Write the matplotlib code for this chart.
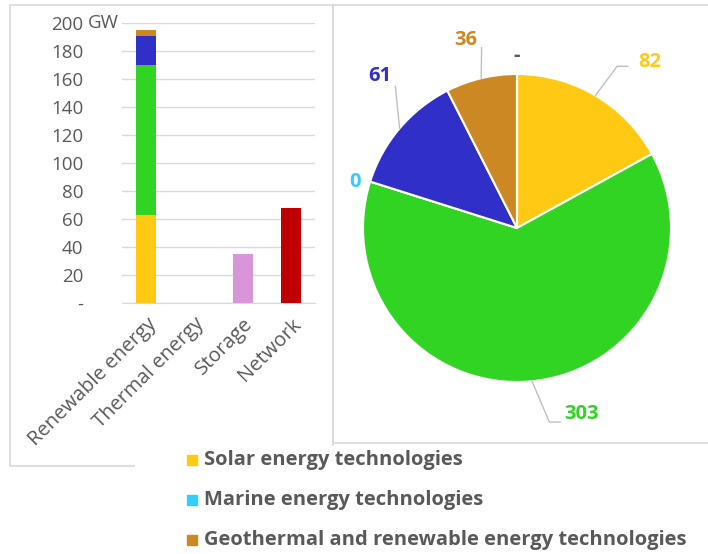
import matplotlib
matplotlib.use('Agg')
import matplotlib.pyplot as plt
import numpy as np
from matplotlib.patches import Rectangle

plt.rcParams['font.family'] = ['Open Sans', 'DejaVu Sans']

# bar chart data (GW)
categories = ['Renewable energy', 'Thermal energy', 'Storage', 'Network']
solar_bar = [63, 0, 0, 0]
wind_bar = [107, 0, 0, 0]
hydro_bar = [21, 0, 0, 0]
geo_bar = [4, 0, 0, 0]
storage_bar = [0, 0, 35, 0]
network_bar = [0, 0, 0, 68]
yticks = [0, 20, 40, 60, 80, 100, 120, 140, 160, 180, 200]
ytick_labels = ['-', '20', '40', '60', '80', '100', '120', '140', '160', '180', '200']

# pie data
pie_names = ['Solar energy technologies', 'Wind energy technologies',
             'Marine energy technologies', 'Hydro energy technologies',
             'Geothermal and renewable energy technologies', 'Other']
pie_values = [82, 303, 0, 61, 36, 0]
pie_labels = ['82', '303', '0', '61', '36', '-']

c_solar = '#FFC914'
c_wind = '#32D424'
c_marine = '#33CCFF'
c_hydro = '#3030C8'
c_geo = '#CC8822'
c_storage = '#D896D8'
c_network = '#C00000'
grey = '#595959'
line_grey = '#D9D9D9'

fig = plt.figure(figsize=(7.08, 5.54), dpi=100)

# panel frames
fig.add_artist(Rectangle((10/708, 1-466/554), 323/708, 461/554, transform=fig.transFigure,
                         fill=False, ec=line_grey, lw=1.2, zorder=0))
fig.add_artist(Rectangle((333/708, 1-443/554), 400/708, 438/554, transform=fig.transFigure,
                         fill=False, ec=line_grey, lw=1.2, zorder=0))
fig.add_artist(Rectangle((135/708, -0.01), 1, 1-443/554 + 0.005, transform=fig.transFigure,
                         fc='white', ec='none', zorder=1))

# ---- bar chart
ax = fig.add_axes([122/708, 1-303/554, 193/708, 280/554])
x = np.arange(len(categories))
w = 0.41
bottom = np.zeros(len(categories))
for vals, col in [(solar_bar, c_solar), (wind_bar, c_wind), (hydro_bar, c_hydro),
                  (geo_bar, c_geo), (storage_bar, c_storage), (network_bar, c_network)]:
    ax.bar(x, vals, w, bottom=bottom, color=col, zorder=3)
    bottom += np.array(vals)
ax.set_xlim(-0.5, len(categories) - 0.5)
ax.set_ylim(0, 200)
ax.set_yticks(yticks)
ax.set_yticklabels(ytick_labels)
ax.yaxis.grid(True, color=line_grey, lw=1)
ax.set_axisbelow(True)
for s in ['top', 'right', 'left']:
    ax.spines[s].set_visible(False)
ax.spines['bottom'].set_color(line_grey)
ax.tick_params(axis='y', length=0, pad=28, labelsize=13.5, labelcolor=grey)
ax.tick_params(axis='x', length=0, pad=8)
ax.set_xticks(x)
ax.set_xticklabels(categories, rotation=45, ha='right', rotation_mode='anchor',
                   fontsize=14.5, color=grey)
ax.annotate('GW', xy=(0, 200), xycoords=('axes fraction', 'data'), xytext=(-34, 0),
            textcoords='offset pixels', ha='left', va='center', fontsize=13.5, color=grey)

# ---- pie chart
r = 154
pax = fig.add_axes([(517-r)/708, 1-(228+r)/554, 2*r/708, 2*r/554])
pie_colors = [c_solar, c_wind, c_marine, c_hydro, c_geo, grey]
label_colors = [c_solar, c_wind, c_marine, c_hydro, c_geo, grey]
wedges, _ = pax.pie(pie_values, colors=pie_colors, startangle=90, counterclock=False,
                    wedgeprops=dict(edgecolor='white', linewidth=1.5))
pax.set_xlim(-1, 1)
pax.set_ylim(-1, 1)
pax.set_aspect('equal')
pax.axis('off')

# label placement (text pos, leader elbow points) in pie data units
label_pos = [(0.86, 1.08), (0.42, -1.21), (-1.05, 0.30), (-0.89, 0.99), (-0.33, 1.22), (0.0, 1.12)]
leaders = [[(0.65, 1.05), (0.72, 1.05)], [(0.21, -1.26), (0.28, -1.26)], None,
           [(-0.79, 0.92)], [(-0.23, 1.17)], None]
for wdg, txt, col, pos, ld in zip(wedges, pie_labels, label_colors, label_pos, leaders):
    th = np.deg2rad((wdg.theta1 + wdg.theta2) / 2)
    anchor = (np.cos(th), np.sin(th))
    if ld is not None:
        pts = [anchor] + ld
        pax.plot([p[0] for p in pts], [p[1] for p in pts], color='#BFBFBF', lw=1,
                 clip_on=False)
    pax.text(pos[0], pos[1], txt, color=col, fontsize=14.5, fontweight='bold',
             ha='center', va='center', clip_on=False)

# legend (left column visible)
leg_idx = [0, 2, 4]
for k, i in enumerate(leg_idx):
    yy = 1 - (460 + 40*k)/554
    fig.add_artist(plt.Line2D([192/708], [yy], marker='s', markersize=7, color=pie_colors[i],
                              linestyle='none', transform=fig.transFigure, zorder=5))
    fig.text(204/708, yy, pie_names[i], color=grey, fontsize=14.5, fontweight='bold',
             ha='left', va='center', zorder=5)

fig.savefig('out.png', dpi=100)
